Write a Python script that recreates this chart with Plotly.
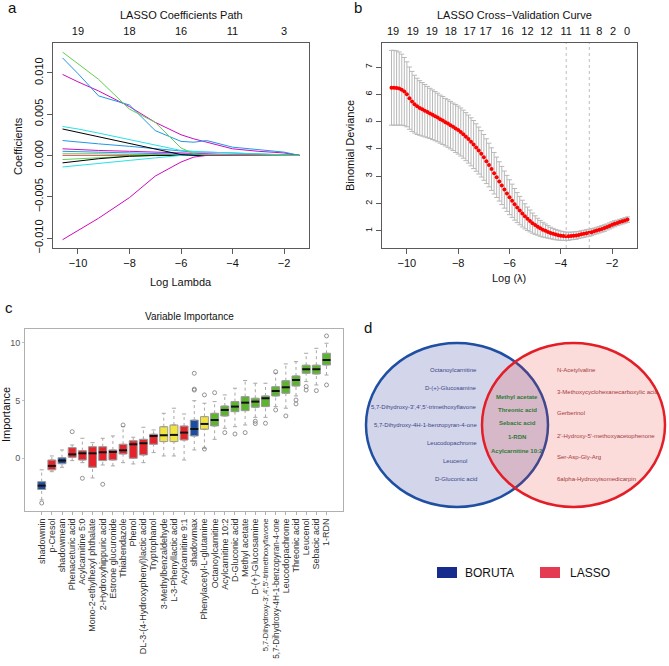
import plotly.graph_objects as go

FONT = "Liberation Sans, Arial, Helvetica, sans-serif"
W, H = 669, 666

# ---------------- Panel a: LASSO coefficient paths ----------------
a_loglambda = [-10.6, -10.0, -9.2, -8.0, -7.0, -6.0, -5.5, -5.0, -4.0, -3.0, -2.0, -1.4]
coef_green1 = [0.0125, 0.0111, 0.0092, 0.0056, 0.0040, 0.0009, 0.0002, 0.0001, 0.0001, 0.00005, 0.0, 0.0]
coef_blue1 = [0.0118, 0.0099, 0.0072, 0.0061, 0.0030, 0.0017, 0.0016, 0.0018, 0.0010, 0.0007, 0.0004, 0.0]
coef_mag1 = [0.0098, 0.0089, 0.0078, 0.0059, 0.0040, 0.0025, 0.0020, 0.0016, 0.0008, 0.0005, 0.0003, 0.0]
coef_cyan1 = [0.0035, 0.0032, 0.0027, 0.0019, 0.0012, 0.0006, 0.0005, 0.0004, 0.0003, 0.0002, 0.0001, 0.0]
coef_black1 = [0.0032, 0.0028, 0.0023, 0.0015, 0.0008, 0.0001, 0.0, 0.0, 0.0, 0.0, 0.0, 0.0]
coef_blue2 = [0.0018, 0.0016, 0.0014, 0.0011, 0.0008, 0.0005, 0.0004, 0.0004, 0.0003, 0.0002, 0.0001, 0.0]
coef_mag2 = [0.0008, 0.0007, 0.0006, 0.0005, 0.0004, 0.0003, 0.0002, 0.0002, 0.0001, 0.0001, 0.0, 0.0]
coef_blue3 = [0.0005, 0.00045, 0.0004, 0.0003, 0.0002, 0.0001, 0.0001, 0.0, 0.0, 0.0, 0.0, 0.0]
coef_green2 = [0.0002, 0.0002, 0.0002, 0.0001, 0.0001, 0.0001, 0.0, 0.0, 0.0, 0.0, 0.0, 0.0]
coef_red1 = [0.0, 0.0, 0.0, 0.0, 0.0, 0.0, 0.0, 0.0, 0.0, 0.0, 0.0, 0.0]
coef_black2 = [-0.0009, -0.0007, -0.0004, -0.0001, 0.0, 0.0, 0.0, 0.0, 0.0, 0.0, 0.0, 0.0]
coef_green3 = [-0.0005, -0.0004, -0.0003, -0.0001, 0.0, 0.0, 0.0, 0.0, 0.0, 0.0, 0.0, 0.0]
coef_cyan2 = [-0.0014, -0.0012, -0.0010, -0.0006, -0.0003, 0.0, 0.0, 0.0, 0.0, 0.0, 0.0, 0.0]
coef_mag3 = [-0.0102, -0.0091, -0.0076, -0.0051, -0.0025, -0.0008, -0.0002, 0.0, 0.0, 0.0, 0.0, 0.0]
a_top_ticks = [-10, -8, -6, -4, -2]
a_top_labels = ["19", "18", "16", "11", "3"]

# ---------------- Panel b: cross-validation curve ----------------
b_loglambda = [round(-10.6 + 0.1 * i, 1) for i in range(93)]
b_deviance = [6.24, 6.24, 6.23, 6.21, 6.17, 6.10, 6.00,
              5.86, 5.74, 5.64, 5.56, 5.50, 5.45, 5.40, 5.35, 5.30, 5.25,
              5.20, 5.15, 5.09, 5.04, 4.98, 4.93, 4.87, 4.81, 4.75, 4.69,
              4.62, 4.54, 4.45, 4.36, 4.26, 4.16, 4.05, 3.94, 3.82, 3.69,
              3.55, 3.41, 3.26, 3.11, 2.96, 2.81, 2.66, 2.51, 2.37, 2.23,
              2.10, 1.97, 1.85, 1.74, 1.63, 1.53, 1.44, 1.36, 1.28, 1.21,
              1.15, 1.09, 1.04, 1.00, 0.96, 0.92, 0.89, 0.86, 0.84, 0.82,
              0.81, 0.80, 0.80, 0.81, 0.82, 0.83, 0.85, 0.87, 0.89, 0.91,
              0.93, 0.95, 0.98, 1.01, 1.04, 1.07, 1.10, 1.14, 1.18, 1.22,
              1.26, 1.29, 1.32, 1.35, 1.38, 1.41]
b_se = [1.37, 1.37, 1.36, 1.34, 1.30, 1.25, 1.19,
        1.14, 1.10, 1.06, 1.03, 1.00, 0.98, 0.96, 0.94, 0.92, 0.91,
        0.90, 0.89, 0.88, 0.88, 0.87, 0.87, 0.87, 0.87, 0.88, 0.88,
        0.88, 0.88, 0.88, 0.88, 0.88, 0.88, 0.87, 0.86, 0.85, 0.84,
        0.82, 0.80, 0.78, 0.76, 0.74, 0.72, 0.70, 0.68, 0.66, 0.64,
        0.61, 0.58, 0.55, 0.52, 0.49, 0.46, 0.43, 0.40, 0.37, 0.34,
        0.31, 0.29, 0.27, 0.25, 0.23, 0.21, 0.20, 0.19, 0.18, 0.17,
        0.16, 0.15, 0.15, 0.14, 0.14, 0.14, 0.13, 0.13, 0.13, 0.13,
        0.13, 0.13, 0.12, 0.12, 0.12, 0.12, 0.12, 0.11, 0.11, 0.11,
        0.11, 0.10, 0.10, 0.10, 0.10, 0.10]
b_top_pos = [-10.54, -9.77, -9.03, -8.29, -7.55, -6.93, -6.08, -5.30, -4.56, -3.79, -3.05, -2.50, -1.96, -1.42]
b_top_labels = ["19", "19", "19", "18", "17", "17", "16", "12", "12", "11", "11", "8", "2", "0"]
b_lambda_min = -3.79
b_lambda_1se = -2.89

# ---------------- Panel c: Boruta variable importance ----------------
c_names = ["shadowmin", "p-Cresol", "shadowmean", "Phenaceturic acid", "Acylcarnitine 5:0",
           "Mono-2-ethylhexyl phthalate", "2-Hydroxyhippuric acid", "Estrone glucuronide",
           "Thiabendazole", "Phenol", "DL-3-(4-Hydroxyphenyl)lactic acid", "Tryptophanol",
           "3-Methylbenzaldehyde", "L-3-Phenyllactic acid", "Acylcarnitine 9:1", "shadowmax",
           "Phenylacetyl-L-glutamine", "Octanoylcarnitine", "Acylcarnitine 10:2", "D-Gluconic acid",
           "Methyl acetate", "D-(+)-Glucosamine", "5,7-Dihydroxy-3',4',5'-trimethoxyflavone",
           "5,7-Dihydroxy-4H-1-benzopyran-4-one", "Leucodopachrome", "Threonic acid", "Leucenol",
           "Sebacic acid", "1-RDN"]
c_status = ["shadow", "rejected", "shadow", "rejected", "rejected", "rejected", "rejected",
            "rejected", "rejected", "rejected", "rejected", "rejected", "tentative", "tentative",
            "rejected", "shadow", "tentative", "confirmed", "confirmed", "confirmed", "confirmed",
            "confirmed", "confirmed", "confirmed", "confirmed", "confirmed", "confirmed",
            "confirmed", "confirmed"]
c_q1 = [-2.70, -1.00, -0.47, 0.08, -0.15, -0.78, -0.20, -0.15, 0.37, 0.00, 0.29, 1.21, 1.44, 1.44,
        1.58, 1.93, 2.51, 2.80, 3.66, 4.03, 4.12, 4.41, 4.47, 5.39, 5.62, 6.25, 7.35, 7.29, 8.07]
c_median = [-2.37, -0.66, -0.20, 0.34, 0.43, 0.43, 0.52, 0.55, 0.69, 1.21, 1.30, 1.93, 1.99, 2.02,
            2.22, 2.53, 2.97, 3.31, 4.18, 4.47, 4.81, 4.90, 5.19, 5.82, 6.14, 6.77, 7.70, 7.70, 8.50]
c_q3 = [-2.02, -0.15, 0.05, 0.92, 0.66, 1.00, 1.00, 0.72, 1.21, 1.52, 1.64, 2.08, 2.73, 2.88,
        2.79, 3.30, 3.60, 3.89, 4.52, 4.90, 5.33, 5.19, 5.39, 6.19, 6.71, 7.12, 8.05, 8.05, 9.08]
c_low = [-3.60, -1.16, -0.78, -0.20, -0.38, -1.70, -0.58, -0.66, -0.38, -0.49, -0.38, 0.49, 0.20,
         0.20, -0.15, 0.72, 0.86, 1.64, 2.60, 2.73, 2.88, 3.54, 3.54, 4.47, 4.33, 5.39, 6.63, 6.34, 7.20]
c_high = [-1.00, 0.20, 0.72, 1.15, 1.73, 1.35, 1.73, 1.93, 2.73, 1.82, 2.68, 2.45, 3.89, 4.33,
          3.83, 4.98, 4.76, 4.90, 5.48, 6.06, 6.72, 6.49, 6.49, 7.35, 8.16, 8.36, 9.08, 9.51, 9.95]
c_out_var = [1, 4, 5, 7, 9, 16, 16, 16, 17, 17, 18, 19, 20, 21, 22, 22, 23, 24, 24, 25, 26, 26,
             27, 27, 28, 29, 29]
c_out_val = [-3.87, 2.30, -1.73, -2.25, 2.88, 5.90, 5.98, 7.35, 5.48, 0.80, 5.67, 2.22, 2.10, 2.22,
             3.00, 3.20, 3.03, 7.49, 4.18, 3.66, 4.70, 5.04, 5.90, 6.20, 5.85, 10.58, 6.34]
c_status_color = {"shadow": "#1C4DA1", "rejected": "#E5232B", "tentative": "#F1E43E",
                  "confirmed": "#5DB42F"}

# ---------------- Panel d: Venn diagram ----------------
d_boruta_only = ["Octanoylcarnitine", "D-(+)-Glucosamine", "5,7-Dihydroxy-3',4',5'-trimethoxyflavone",
                 "5,7-Dihydroxy-4H-1-benzopyran-4-one", "Leucodopachrome", "Leucenol", "D-Gluconic acid"]
d_both = ["Methyl acetate", "Threonic acid", "Sebacic acid", "1-RDN", "Acylcarnitine 10:2"]
d_lasso_only = ["N-Acetylvaline", "3-Methoxycyclohexanecarboxylic acid", "Gerberinol",
                "2'-Hydroxy-5'-methoxyacetophenone", "Ser-Asp-Gly-Arg", "6alpha-Hydroxyisomedicarpin"]
d_legend = ["BORUTA", "LASSO"]

MINUS = "\u2212"


def fmt(v, nd=0):
    s = f"{abs(v):.{nd}f}"
    return (MINUS + s) if v < 0 else s


def dom_x(p0, p1):
    return [p0 / W, p1 / W]


def dom_y(top, bottom):
    return [1 - bottom / H, 1 - top / H]


def tick_label(name):
    # the longest names are set slightly smaller so they stay inside the figure
    if len(name) > 38:
        return '<span style="font-size:7.6px">%s</span>' % name
    if len(name) > 34:
        return '<span style="font-size:8.2px">%s</span>' % name
    return name


fig = go.Figure()

# ---- panel a traces
a_series = [
    (coef_red1, "#DF536B"), (coef_green2, "#61D04F"), (coef_blue3, "#2297E6"),
    (coef_green3, "#61D04F"), (coef_black2, "#000000"), (coef_cyan2, "#28E2E5"),
    (coef_mag2, "#CD0BBC"), (coef_blue2, "#2297E6"), (coef_black1, "#000000"),
    (coef_cyan1, "#28E2E5"), (coef_mag3, "#CD0BBC"), (coef_mag1, "#CD0BBC"),
    (coef_blue1, "#2297E6"), (coef_green1, "#61D04F"),
]
for vals, col in a_series:
    fig.add_trace(go.Scatter(x=a_loglambda, y=vals, mode="lines", line=dict(color=col, width=1),
                             xaxis="x", yaxis="y", showlegend=False, hoverinfo="skip"))
fig.add_trace(go.Scatter(x=a_top_ticks, y=[0] * len(a_top_ticks), mode="markers",
                         marker=dict(opacity=0), xaxis="x5", yaxis="y", showlegend=False,
                         hoverinfo="skip"))

# ---- panel b traces
fig.add_trace(go.Scatter(x=b_loglambda, y=b_deviance, mode="markers",
                         marker=dict(color="#FF0000", size=4),
                         error_y=dict(type="data", array=b_se, color="#B8B8B8", thickness=1, width=2.5),
                         xaxis="x2", yaxis="y2", showlegend=False))
fig.add_trace(go.Scatter(x=b_top_pos, y=[1] * len(b_top_pos), mode="markers",
                         marker=dict(opacity=0), xaxis="x6", yaxis="y2", showlegend=False,
                         hoverinfo="skip"))

# ---- panel c traces
positions = list(range(1, len(c_names) + 1))
wx, wy, cx, cy, mx, my = [], [], [], [], [], []
for i, p in enumerate(positions):
    fig.add_trace(go.Box(x=[p], q1=[c_q1[i]], median=[c_median[i]], q3=[c_q3[i]],
                         lowerfence=[c_q1[i]], upperfence=[c_q3[i]],
                         fillcolor=c_status_color[c_status[i]],
                         line=dict(color="#9A9A9A", width=1), width=0.78, boxpoints=False,
                         xaxis="x3", yaxis="y3", showlegend=False, name=c_names[i]))
    wx += [p, p, None, p, p, None]
    wy += [c_low[i], c_q1[i], None, c_q3[i], c_high[i], None]
    cx += [p - 0.2, p + 0.2, None, p - 0.2, p + 0.2, None]
    cy += [c_low[i], c_low[i], None, c_high[i], c_high[i], None]
    mx += [p - 0.39, p + 0.39, None]
    my += [c_median[i], c_median[i], None]
fig.add_trace(go.Scatter(x=wx, y=wy, mode="lines", line=dict(color="#A8A8A8", width=1, dash="dot"),
                         xaxis="x3", yaxis="y3", showlegend=False, hoverinfo="skip"))
fig.add_trace(go.Scatter(x=cx, y=cy, mode="lines", line=dict(color="#A8A8A8", width=1),
                         xaxis="x3", yaxis="y3", showlegend=False, hoverinfo="skip"))
fig.add_trace(go.Scatter(x=mx, y=my, mode="lines", line=dict(color="#111111", width=2),
                         xaxis="x3", yaxis="y3", showlegend=False, hoverinfo="skip"))
fig.add_trace(go.Scatter(x=c_out_var, y=c_out_val, mode="markers",
                         marker=dict(symbol="circle-open", size=4, color="#7A7A7A", line=dict(width=0.8)),
                         xaxis="x3", yaxis="y3", showlegend=False, hoverinfo="skip"))

# ---- panel d placeholder trace for pixel-space axis
fig.add_trace(go.Scatter(x=[400], y=[600], mode="markers", marker=dict(opacity=0),
                         xaxis="x4", yaxis="y4", showlegend=False, hoverinfo="skip"))

# ---------------- axes ----------------
box_axis = dict(showgrid=False, zeroline=False, showline=True, mirror=True, linecolor="#5A5A5A",
                linewidth=1, ticks="outside", ticklen=5, tickcolor="#5A5A5A", tickwidth=1,
                tickfont=dict(size=11, color="#111"), automargin=False)

a_xt = [-10, -8, -6, -4, -2]
a_yt = [-0.010, -0.005, 0.0, 0.005, 0.010]
b_yt = [1, 2, 3, 4, 5, 6, 7]

layout = dict(
    width=W, height=H, margin=dict(l=0, r=0, t=0, b=0, autoexpand=False), autosize=False,
    paper_bgcolor="white", plot_bgcolor="rgba(0,0,0,0)",
    font=dict(family=FONT, color="#111"), showlegend=False,
    xaxis=dict(box_axis, domain=dom_x(53, 309), range=[-10.97, -1.03], anchor="y",
               tickvals=a_xt, ticktext=[fmt(v) for v in a_xt]),
    yaxis=dict(box_axis, domain=dom_y(43, 248), range=[-0.0112, 0.0136], anchor="x",
               tickvals=a_yt, ticktext=[fmt(v, 3) for v in a_yt], tickangle=-90),
    xaxis5=dict(overlaying="x", side="top", anchor="y", range=[-10.97, -1.03], showgrid=False,
                zeroline=False, showline=False, ticks="outside", ticklen=3, automargin=False,
                tickcolor="rgba(0,0,0,0)", tickvals=a_top_ticks, ticktext=a_top_labels,
                tickfont=dict(size=11, color="#111")),
    xaxis2=dict(box_axis, domain=dom_x(382, 637), range=[-10.97, -1.03], anchor="y2",
                tickvals=a_xt, ticktext=[fmt(v) for v in a_xt]),
    yaxis2=dict(box_axis, domain=dom_y(43, 248), range=[0.37, 7.88], anchor="x2",
                tickvals=b_yt, ticktext=[str(v) for v in b_yt], tickangle=-90,
                tickfont=dict(size=9, color="#111")),
    xaxis6=dict(overlaying="x2", side="top", anchor="y2", range=[-10.97, -1.03], showgrid=False,
                zeroline=False, showline=False, ticks="outside", ticklen=3, automargin=False,
                tickcolor="rgba(0,0,0,0)", tickvals=b_top_pos, ticktext=b_top_labels,
                tickfont=dict(size=11, color="#111")),
    xaxis3=dict(domain=dom_x(25, 343), range=[-0.64, 30.62], anchor="y3", showgrid=False,
                zeroline=False, showline=True, mirror=True, linecolor="#B0B0B0", linewidth=1,
                ticks="outside", ticklen=3, tickcolor="#B0B0B0", tickvals=positions,
                ticktext=[tick_label(n) for n in c_names], tickangle=-90,
                tickfont=dict(size=9, color="#333"), automargin=False),
    yaxis3=dict(domain=dom_y(329, 511), range=[-4.56, 11.18], anchor="x3", showgrid=False,
                zeroline=False, showline=True, mirror=True, linecolor="#B0B0B0", linewidth=1,
                ticks="outside", ticklen=2, tickcolor="#C0C0C0", tickvals=[0, 5, 10],
                ticktext=["0", "5", "10"], tickfont=dict(size=9, color="#555"), automargin=False),
    xaxis4=dict(domain=[0.5, 1.0], range=[334.5, 669], visible=False, anchor="y4", fixedrange=True,
                automargin=False),
    yaxis4=dict(domain=[0.0, 0.5], range=[666, 333], visible=False, anchor="x4", fixedrange=True,
                automargin=False),
)
fig.update_layout(**layout)

# ---------------- shapes ----------------
shapes = [
    dict(type="line", xref="x2", yref="y2 domain", x0=b_lambda_min, x1=b_lambda_min, y0=0, y1=1,
         line=dict(color="#BDBDBD", width=1, dash="dot")),
    dict(type="line", xref="x2", yref="y2 domain", x0=b_lambda_1se, x1=b_lambda_1se, y0=0, y1=1,
         line=dict(color="#BDBDBD", width=1, dash="dot")),
    dict(type="circle", xref="x4", yref="y4", x0=366, x1=548, y0=343, y1=507,
         fillcolor="rgba(35,45,150,0.20)", line=dict(color="#1F4FA2", width=2.5)),
    dict(type="circle", xref="x4", yref="y4", x0=482, x1=665, y0=343, y1=507,
         fillcolor="rgba(235,40,40,0.17)", line=dict(color="#E41E26", width=2.5)),
    dict(type="rect", xref="x4", yref="y4", x0=437, x1=457, y0=567, y1=578,
         fillcolor="#162C8C", line=dict(width=0)),
    dict(type="rect", xref="x4", yref="y4", x0=540, x1=560, y0=567, y1=578,
         fillcolor="#E43B52", line=dict(width=0)),
]
fig.update_layout(shapes=shapes)

# ---------------- annotations ----------------
ann = []


def add_text(text, x, y, size, xanchor="center", yanchor="middle", color="#111", angle=0,
             xref="paper", yref="paper", bold=False):
    if xref == "paper":
        x = x / W
    if yref == "paper":
        y = 1 - y / H
    ann.append(dict(text=("<b>%s</b>" % text) if bold else text, x=x, y=y, xref=xref, yref=yref,
                    showarrow=False, xanchor=xanchor, yanchor=yanchor, textangle=angle,
                    font=dict(size=size, color=color, family=FONT)))


add_text("a", 12, 8, 15)
add_text("b", 358, 8, 15)
add_text("c", 9, 307, 15)
add_text("d", 368, 327, 15)
add_text("LASSO Coefficients Path", 181, 15, 11)
add_text("LASSO Cross" + MINUS + "Validation Curve", 514, 15, 11)
add_text("Log Lambda", 181, 282, 11)
add_text("Log (\u03bb)", 509, 278, 11)
add_text("Coefficients", 18, 146, 11, angle=-90)
add_text("Binomial Deviance", 350, 146, 11, angle=-90)
add_text("Variable Importance", 189, 316, 10)
add_text("Importance", 6, 415, 11, angle=-90)

left_x = [479, 479, 478, 479, 479, 469, 479]
left_y = [370, 388, 407, 425, 443, 461, 479]
for t, x, y in zip(d_boruta_only, left_x, left_y):
    add_text(t, x, y, 6, xanchor="right", color="#3A4585", xref="x4", yref="y4")
mid_y = [397, 410, 423, 437, 451]
for t, y in zip(d_both, mid_y):
    add_text(t, 517, y, 6, color="#2E7A38", xref="x4", yref="y4", bold=True)
right_y = [370, 392, 413, 436, 457, 479]
for t, y in zip(d_lasso_only, right_y):
    add_text(t, 555, y, 6, xanchor="left", color="#A23B3B", xref="x4", yref="y4")
add_text(d_legend[0], 463, 573, 12, xanchor="left", xref="x4", yref="y4")
add_text(d_legend[1], 568, 573, 12, xanchor="left", xref="x4", yref="y4")

fig.update_layout(annotations=ann)

fig.write_html("out.html")
